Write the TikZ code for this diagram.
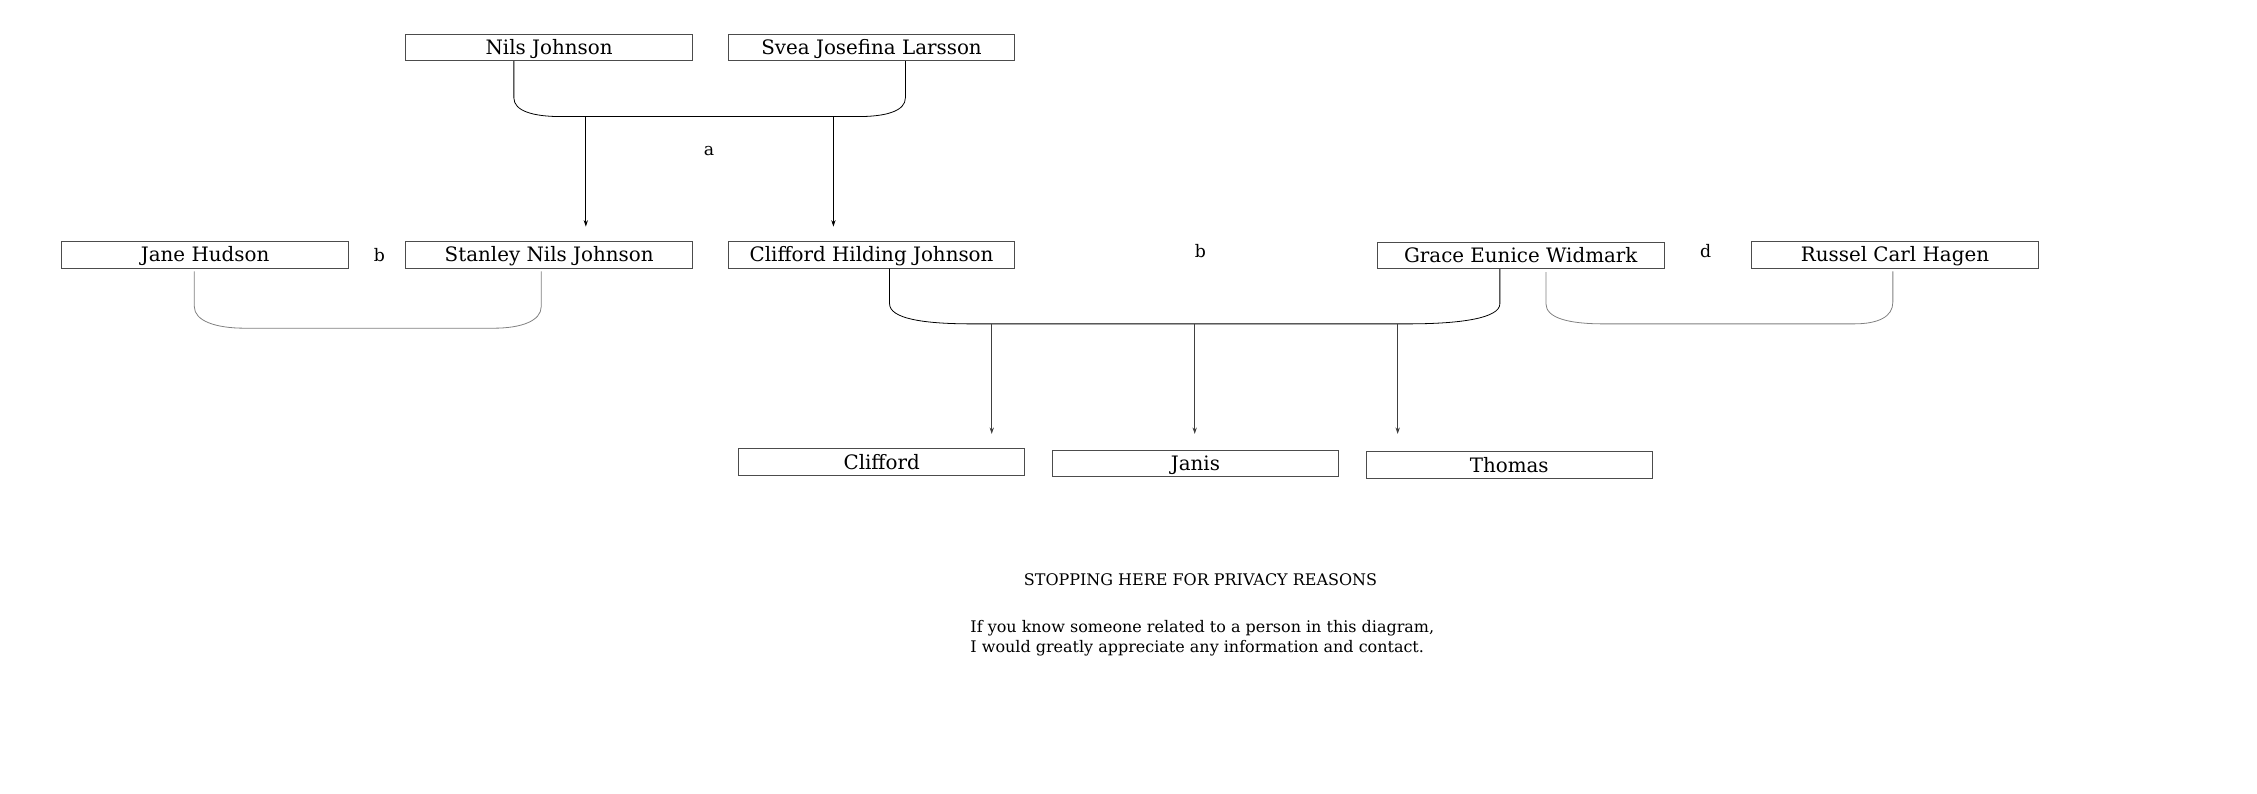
\documentclass[tikz,border=0pt]{standalone}
\usepackage{fontspec}
\setmainfont{DejaVu Serif}
\usetikzlibrary{arrows.meta}

\begin{document}
\begin{tikzpicture}[x = 1pt, y = 1pt,
    person/.style = {shape = rectangle, draw = black!70, line width = 0.6pt,
      minimum width = 199pt, minimum height = 18.5pt, inner sep = 0pt,
      text height = 10pt, text depth = 0pt,
      font = \fontsize{13.8}{16}\selectfont},
    mark label/.style = {font = \fontsize{12}{14}\selectfont},
    note text/.style = {font = \fontsize{11.1}{14}\selectfont},
    couple/.style = {draw = black, line width = 0.55pt},
    other couple/.style = {draw = black!50, line width = 0.55pt},
    >={Stealth[length = 4.5pt, width = 3pt]}]
        \useasboundingbox (0, 0) rectangle (1568, -551.6);

        % ------------------------------------------------------------------------
        % Parents
        \node[person] at ( 381.5, -33) (nils) {Nils Johnson};
        \node[person] at ( 605.5, -33) (svea) {Svea Josefina Larsson};

        \node[mark label] at ( 492.5, -105) (a) {a};

        % ------------------------------------------------------------------------
        % Children and partners
        \node[person] at ( 142.5, -177) (jane) {Jane Hudson};
        \node[mark label] at ( 263.5, -177) (b1) {b};
        \node[person] at ( 381.5, -177) (stanley) {Stanley Nils Johnson};
        \node[person] at ( 605.5, -177) (cliffordh) {Clifford Hilding Johnson};
        \node[mark label] at ( 834, -174.5) (b2) {b};
        \node[person] at (1056.5, -177.5) (grace) {Grace Eunice Widmark};
        \node[mark label] at (1185, -174.5) (d) {d};
        \node[person] at (1316.5, -177) (russel) {Russel Carl Hagen};

        % ------------------------------------------------------------------------
        % Grandchildren
        \node[person] at ( 612.5, -321) (clifford) {Clifford};
        \node[person] at ( 830.5, -322) (janis) {Janis};
        \node[person] at (1048.5, -323) (thomas) {Thomas};

        % couple lines
        \draw[couple] ([xshift = -24.5pt]nils.south) -- (357, -68)
          .. controls (357, -77) and (370, -81) .. (390, -81) -- (596, -81)
          .. controls (616, -81) and (629, -77) .. (629, -68)
          -- ([xshift = 23.5pt]svea.south);
        \draw[other couple] ([shift = {(-7.5pt, -2pt)}]jane.south) -- (135, -213)
          .. controls (135, -223) and (150, -228) .. (170, -228) -- (343, -228)
          .. controls (362, -228) and (376, -223) .. (376, -213)
          -- ([shift = {(-5.5pt, -2pt)}]stanley.south);
        \draw[couple] ([xshift = 12.5pt]cliffordh.south) -- (618, -211)
          .. controls (618, -221) and (640, -225) .. (675, -225) -- (978, -225)
          .. controls (1015, -225) and (1042, -221) .. (1042, -211)
          -- ([xshift = -14.5pt]grace.south);
        \draw[other couple] ([shift = {(17.5pt, -2pt)}]grace.south) -- (1074, -211)
          .. controls (1074, -221) and (1090, -225) .. (1114, -225) -- (1288, -225)
          .. controls (1305, -225) and (1315, -220) .. (1315, -210)
          -- ([shift = {(-1.5pt, -2pt)}]russel.south);

        \coordinate (ns1) at ( 407, -81);
        \coordinate (ns2) at ( 579, -81);
        \coordinate (cg1) at ( 689, -225);
        \coordinate (cg2) at ( 830, -225);
        \coordinate (cg3) at ( 971, -225);

        \path[->, line width = 0.55pt]
          (ns1) edge ([shift = {(25.5pt, 10pt)}]stanley.north)
          (ns2) edge ([shift = {(-26.5pt, 10pt)}]cliffordh.north)
        ;
        \path[->, black!75, line width = 0.5pt]
          (cg1) edge ([shift = {(76.5pt, 10pt)}]clifford.north)
          (cg2) edge ([shift = {(-0.5pt, 11pt)}]janis.north)
          (cg3) edge ([shift = {(-77.5pt, 12pt)}]thomas.north)
        ;

        % ------------------------------------------------------------------------
        % Note
        \node[note text] at (834, -403) (stop)
          {STOPPING HERE FOR PRIVACY REASONS};
        \node[note text, align = left, anchor = north west,
          inner sep = 0pt] at (674, -431) (note)
          {If you know someone related to a person in this diagram,\\
           I would greatly appreciate any information and contact.};
      \end{tikzpicture}
\end{document}
